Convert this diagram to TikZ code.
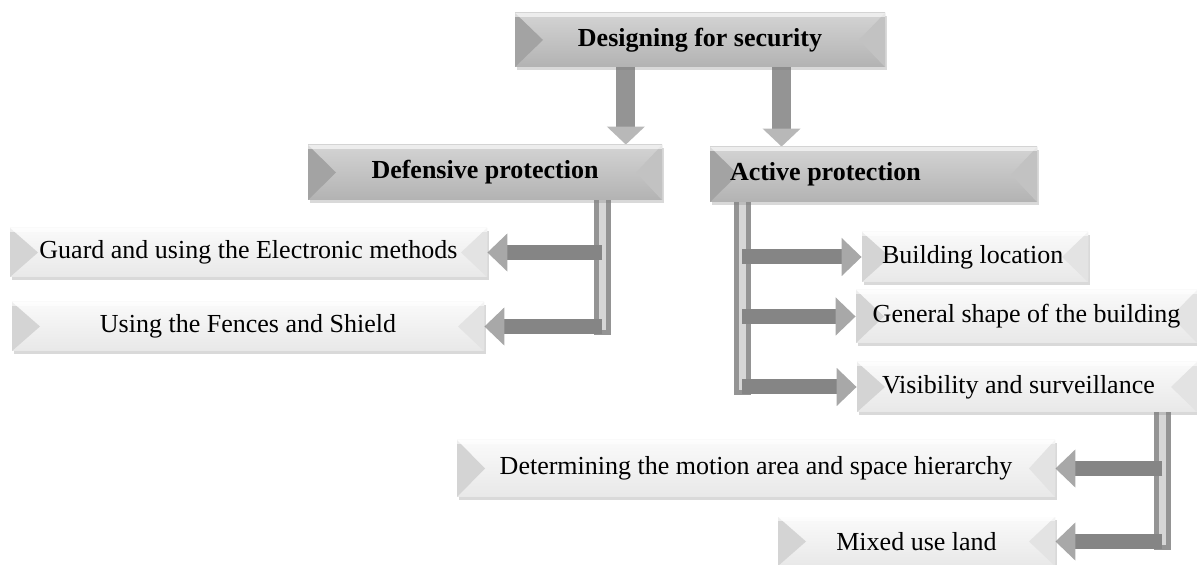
\documentclass[tikz,border=0pt]{standalone}
\usepackage{fontspec}
\setmainfont{Liberation Serif}
\usetikzlibrary{arrows.meta, calc, shadows, backgrounds}

% bevel faces: left and right wedges, light top band
\newcommand{\bevelsides}[2]{%
  \fill[#1] (path picture bounding box.north west) -- ([xshift=14pt]path picture bounding box.west) -- (path picture bounding box.south west) -- cycle;
  \fill[#2] (path picture bounding box.north east) -- ([xshift=-13pt]path picture bounding box.east) -- (path picture bounding box.south east) -- cycle;
  \fill[white, opacity=0.6] (path picture bounding box.north west) rectangle ([yshift=-2pt]path picture bounding box.north east);
}

\begin{document}
\begin{tikzpicture}[x=0.5pt, y=-0.5pt,
    font=\fontsize{13}{15}\selectfont,
    box/.style={rectangle, inner sep=0pt, drop shadow={shadow xshift=1pt, shadow yshift=-1.5pt, opacity=0.3}},
    headbox/.style={box, top color=black!17, bottom color=black!30, font=\fontsize{13}{15}\selectfont\bfseries, path picture={\bevelsides{black!36}{black!24}}},
    itembox/.style={box, top color=black!2, bottom color=black!9, path picture={\bevelsides{black!17}{black!11}}},
    trunk/.style={line width=2.5pt, draw=black!42, double=black!16, double distance=3.5pt, line cap=rect},
    branch/.style={line width=7.5pt, color=black!48, -{Triangle[width=18.5pt, length=10pt, color=black!34]}}]
        \useasboundingbox (0,0) rectangle (1197,565);

        \node[headbox, minimum width=185pt, minimum height=27pt] (des) at (700,40) {Designing for security};
        \node[headbox, minimum width=177pt, minimum height=27.5pt] (def) at (485,172.5) {Defensive protection};
        \node[headbox, minimum height=27.5pt, inner xsep=10pt, text width=143.5pt, align=flush left] (act) at (873.5,174.5) {Active protection};

        \node[itembox, minimum width=238.5pt, minimum height=24.5pt] (guard) at (248.5,252.5) {Guard and using the Electronic methods};
        \node[itembox, minimum width=236pt, minimum height=24.5pt] (fence) at (248,326.5) {Using the Fences and Shield};

        \node[itembox, minimum height=25pt, inner xsep=10pt, text width=93pt, align=flush left] (loc) at (975,257) {Building location};
        \node[itembox, minimum width=170.5pt, minimum height=26.5pt] (shape) at (1026.5,316.5) {General shape of the building};
        \node[itembox, minimum height=25pt, inner xsep=12.5pt, text width=145pt, align=flush left] (vis) at (1027,387) {Visibility and surveillance};

        \node[itembox, minimum width=299pt, minimum height=28.5pt] (motion) at (756,468.5) {Determining the motion area and space hierarchy};
        \node[itembox, minimum width=138.5pt, minimum height=24.5pt] (mixed) at (916.5,541.5) {Mixed use land};

        \coordinate (dl) at ($(des.south west)!0.30!(des.south east)$);
        \coordinate (dr) at ($(des.south west)!0.72!(des.south east)$);
        \coordinate (dt) at ($(def.south west)!0.83!(def.south east)$);
        \coordinate (at) at ($(act.south west)!0.10!(act.south east)$);
        \coordinate (vt) at ($(vis.south west)!0.897!(vis.south east)$);

        \begin{pgfonlayer}{background}
        \draw[branch, line width=9.5pt, color=black!42, -{Triangle[width=18.5pt, length=9pt, color=black!28]}] (dl) -- (dl |- def.north);
        \draw[branch, line width=9.5pt, color=black!42, -{Triangle[width=18.5pt, length=9pt, color=black!28]}] (dr) -- (dr |- act.north);

        \draw[trunk] (dt) -- (dt |- fence.east);
        \draw[branch] (dt |- guard.east) -- (guard.east);
        \draw[branch] (dt |- fence.east) -- (fence.east);

        \draw[trunk] (at) -- (at |- vis.west);
        \draw[branch] (at |- loc.west) -- (loc.west);
        \draw[branch] (at |- shape.west) -- (shape.west);
        \draw[branch] (at |- vis.west) -- (vis.west);

        \draw[trunk] (vt) -- (vt |- mixed.east);
        \draw[branch] (vt |- motion.east) -- (motion.east);
        \draw[branch] (vt |- mixed.east) -- (mixed.east);
        \end{pgfonlayer}
      \end{tikzpicture}
\end{document}
